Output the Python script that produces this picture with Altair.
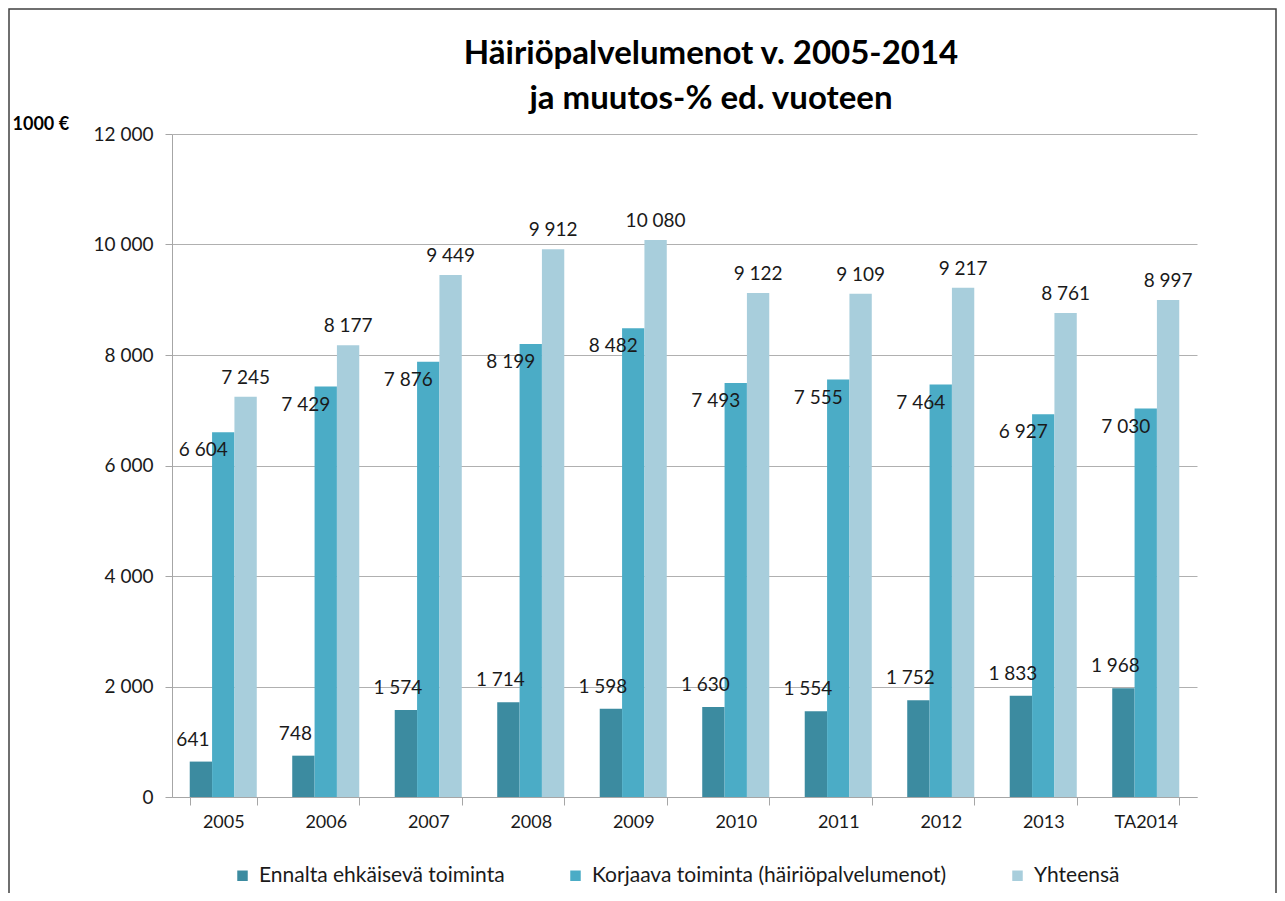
import altair as alt
import pandas as pd

years = ["2005", "2006", "2007", "2008", "2009", "2010", "2011", "2012", "2013", "TA2014"]
series_names = ["Ennalta ehkäisevä toiminta", "Korjaava toiminta (häiriöpalvelumenot)", "Yhteensä"]
ennalta = [641, 748, 1574, 1714, 1598, 1630, 1554, 1752, 1833, 1968]
korjaava = [6604, 7429, 7876, 8199, 8482, 7493, 7555, 7464, 6927, 7030]
yhteensa = [7245, 8177, 9449, 9912, 10080, 9122, 9109, 9217, 8761, 8997]
y_ticks = [0, 2000, 4000, 6000, 8000, 10000, 12000]
colors = ["#3C8BA0", "#4BACC6", "#A8CEDC"]
title_lines = ["Häiriöpalvelumenot v. 2005-2014", "ja muutos-% ed. vuoteen"]
unit_label = "1000 €"

rows = []
for i, yr in enumerate(years):
    for s, vals in zip(series_names, [ennalta, korjaava, yhteensa]):
        rows.append({"year": yr, "series": s, "value": vals[i]})
df = pd.DataFrame(rows)

FONT = "Lato"
fmt = "replace(format(datum.value, ','), ',', ' ')"

x = alt.X("year:N", sort=years, title=None,
          scale=alt.Scale(domain=years, paddingInner=0.346, paddingOuter=0.173),
          axis=alt.Axis(labelAngle=0, tickBand="extent", ticks=True, tickSize=8,
                        tickColor="#a6a6a6", domainColor="#a6a6a6", labelFontSize=18,
                        labelPadding=8, grid=False, labelColor="#1a1a1a", labelFont=FONT))
xoff = alt.XOffset("series:N", sort=series_names,
                   scale=alt.Scale(domain=series_names, paddingInner=0, paddingOuter=0))
y = alt.Y("value:Q", scale=alt.Scale(domain=[0, 12000], nice=False),
          axis=alt.Axis(values=y_ticks, labelExpr=fmt, title=unit_label, titleAngle=0,
                        titleAlign="left", titleBaseline="bottom", titleX=-160, titleY=-1,
                        titleFontWeight="bold", titleFontSize=18, titleFont=FONT,
                        titleColor="#000000",
                        labelFont=FONT, labelFontSize=19, labelColor="#1a1a1a",
                        tickSize=7, tickColor="#a6a6a6", gridColor="#b0b0b0",
                        domainColor="#a6a6a6", labelPadding=12))
color = alt.Color("series:N", sort=series_names,
                  scale=alt.Scale(domain=series_names, range=colors),
                  legend=alt.Legend(orient="none", legendX=60, legendY=731,
                                    direction="horizontal", title=None, symbolType="square",
                                    symbolSize=110, symbolStrokeWidth=0, labelFontSize=21,
                                    labelFont=FONT, labelColor="#1a1a1a", labelOffset=6,
                                    columnPadding=60, labelLimit=500))

base = alt.Chart(df).transform_calculate(label=fmt)

bars = base.mark_bar().encode(x=x, xOffset=xoff, y=y, color=color)

offsets = [(-8, -22), (-20, 18), (0, -19)]
texts = []
for name, (dx, dy) in zip(series_names, offsets):
    texts.append(
        base.transform_filter(alt.datum.series == name)
        .mark_text(dx=dx, dy=dy, fontSize=19, font=FONT, color="#1a1a1a", baseline="middle")
        .encode(x=x, xOffset=xoff, y=y, text="label:N")
    )

one = pd.DataFrame({"a": [0]})
title = alt.Chart(one).mark_text(
    text=title_lines, font=FONT, fontSize=33, fontWeight="bold", color="#000000",
    align="center", baseline="alphabetic", lineHeight=45
).encode(x=alt.value(539), y=alt.value(-70))

frame = alt.Chart(one).mark_rect(
    fillOpacity=0, stroke="#404040", strokeWidth=1.5
).encode(x=alt.value(-163), x2=alt.value(1104), y=alt.value(-125), y2=alt.value(800))

chart = alt.layer(bars, *texts, title, frame).properties(
    width=1025, height=663,
    padding={"left": 164, "top": 126, "right": 80, "bottom": 96},
    autosize=alt.AutoSizeParams(type="none"),
).configure_view(stroke=None)

chart.save("out.html", embed_options={"renderer": "svg", "actions": False})
